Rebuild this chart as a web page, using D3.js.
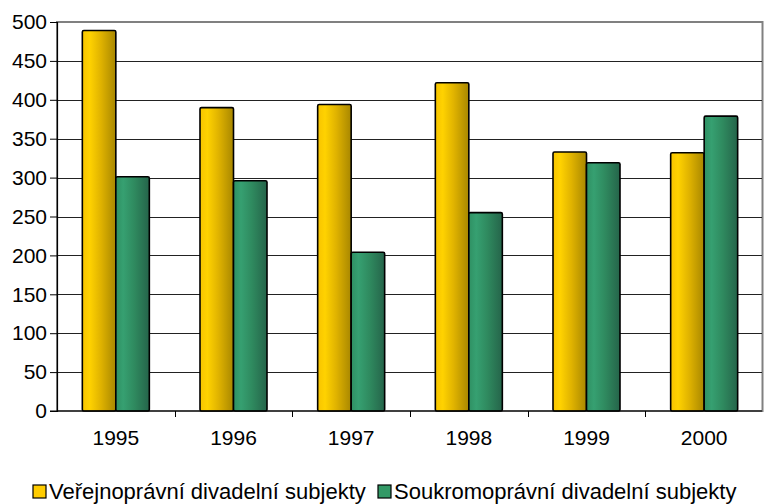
<!DOCTYPE html>
<html>
<head>
<meta charset="utf-8">
<script src="https://cdn.jsdelivr.net/npm/d3@7"></script>
<style>
  body { margin: 0; background: #fff; }
  svg text { font-family: "Liberation Sans", Arial, sans-serif; }
</style>
</head>
<body>
<script>
// data
var years = ["1995", "1996", "1997", "1998", "1999", "2000"];
var seriesNames = ["Veřejnoprávní divadelní subjekty", "Soukromoprávní divadelní subjekty"];
var verejne = [489, 390, 394, 422, 333, 332];
var soukrome = [301, 296, 204, 255, 319, 379];
var yTicks = [0, 50, 100, 150, 200, 250, 300, 350, 400, 450, 500];

var width = 764, height = 504;
var margin = { left: 57, right: 1, top: 22, bottom: 93 };

var svg = d3.select("body").append("svg")
    .attr("width", width)
    .attr("height", height);

// gradients for bars
var defs = svg.append("defs");
function grad(id, stops) {
  var g = defs.append("linearGradient").attr("id", id)
      .attr("x1", "0%").attr("x2", "100%").attr("y1", "0%").attr("y2", "0%");
  stops.forEach(function(s) {
    g.append("stop").attr("offset", s[0]).attr("stop-color", s[1]);
  });
}
grad("gYellow", [["0%", "#f7c400"], ["22%", "#ffd200"], ["55%", "#e0b300"], ["100%", "#a88700"]]);
grad("gGreen", [["0%", "#2f9063"], ["22%", "#36a071"], ["55%", "#2f8a5f"], ["100%", "#25644a"]]);
var fills = ["url(#gYellow)", "url(#gGreen)"];
var legendColors = ["#ffcc00", "#339966"];

var x = d3.scaleBand()
    .domain(years)
    .range([margin.left, width - margin.right]);

var groupW = 67;
var x1 = d3.scaleBand()
    .domain([0, 1])
    .range([0, groupW]);

var y = d3.scaleLinear()
    .domain([0, 500])
    .range([height - margin.bottom, margin.top]);

// plot border (gray)
svg.append("rect")
    .attr("x", margin.left)
    .attr("y", y(500))
    .attr("width", width - margin.right - margin.left - 0.5)
    .attr("height", y(0) - y(500))
    .attr("fill", "none")
    .attr("stroke", "#808080")
    .attr("stroke-width", 2);

// gridlines
svg.append("g")
    .selectAll("line")
    .data(yTicks.filter(function(d) { return d > 0 && d < 500; }))
    .enter().append("line")
    .attr("x1", margin.left)
    .attr("x2", width - margin.right - 1)
    .attr("y1", function(d) { return Math.round(y(d)) + 0.5; })
    .attr("y2", function(d) { return Math.round(y(d)) + 0.5; })
    .attr("stroke", "#222")
    .attr("stroke-width", 1);

// bars
var values = [verejne, soukrome];
var rows = [];
years.forEach(function(yr, i) {
  values.forEach(function(v, s) {
    rows.push({ year: yr, s: s, value: v[i] });
  });
});

svg.append("g")
    .selectAll("rect")
    .data(rows)
    .enter().append("rect")
    .attr("x", function(d) { return x(d.year) + (x.bandwidth() - groupW) / 2 + x1(d.s); })
    .attr("y", function(d) { return y(d.value); })
    .attr("width", x1.bandwidth())
    .attr("height", function(d) { return y(0) - y(d.value); })
    .attr("fill", function(d) { return fills[d.s]; })
    .attr("stroke", "#000")
    .attr("stroke-width", 1.6)
    .attr("rx", 1.5);

// y axis
var yAxis = svg.append("g")
    .attr("transform", "translate(" + margin.left + ",0)")
    .call(d3.axisLeft(y).tickValues(yTicks).tickSize(7).tickPadding(3));
yAxis.select(".domain").attr("stroke", "#000").attr("stroke-width", 1.2);
yAxis.selectAll(".tick line").attr("stroke", "#000");
yAxis.selectAll("text").attr("font-size", 21).attr("fill", "#000");

// x axis
var xAxis = svg.append("g")
    .attr("transform", "translate(0," + y(0) + ")");
xAxis.append("line")
    .attr("x1", margin.left - 7).attr("x2", width - margin.right - 1)
    .attr("stroke", "#000").attr("stroke-width", 1.2);
xAxis.selectAll(".sep")
    .data(years.slice(1))
    .enter().append("line")
    .attr("x1", function(d) { return Math.round(x(d)) + 0.5; })
    .attr("x2", function(d) { return Math.round(x(d)) + 0.5; })
    .attr("y1", 0).attr("y2", 6)
    .attr("stroke", "#000");
xAxis.selectAll(".lbl")
    .data(years)
    .enter().append("text")
    .attr("x", function(d) { return x(d) + x.bandwidth() / 2; })
    .attr("y", 34)
    .attr("text-anchor", "middle")
    .attr("font-size", 21)
    .text(function(d) { return d; });

// legend
var legend = svg.append("g");
var legendX = [33, 378];
seriesNames.forEach(function(name, i) {
  legend.append("rect")
      .attr("x", legendX[i]).attr("y", 485)
      .attr("width", 13).attr("height", 13)
      .attr("fill", legendColors[i])
      .attr("stroke", "#000").attr("stroke-width", 1.2);
  legend.append("text")
      .attr("x", legendX[i] + 16).attr("y", 499)
      .attr("font-size", 22)
      .text(name);
});
</script>
</body>
</html>
